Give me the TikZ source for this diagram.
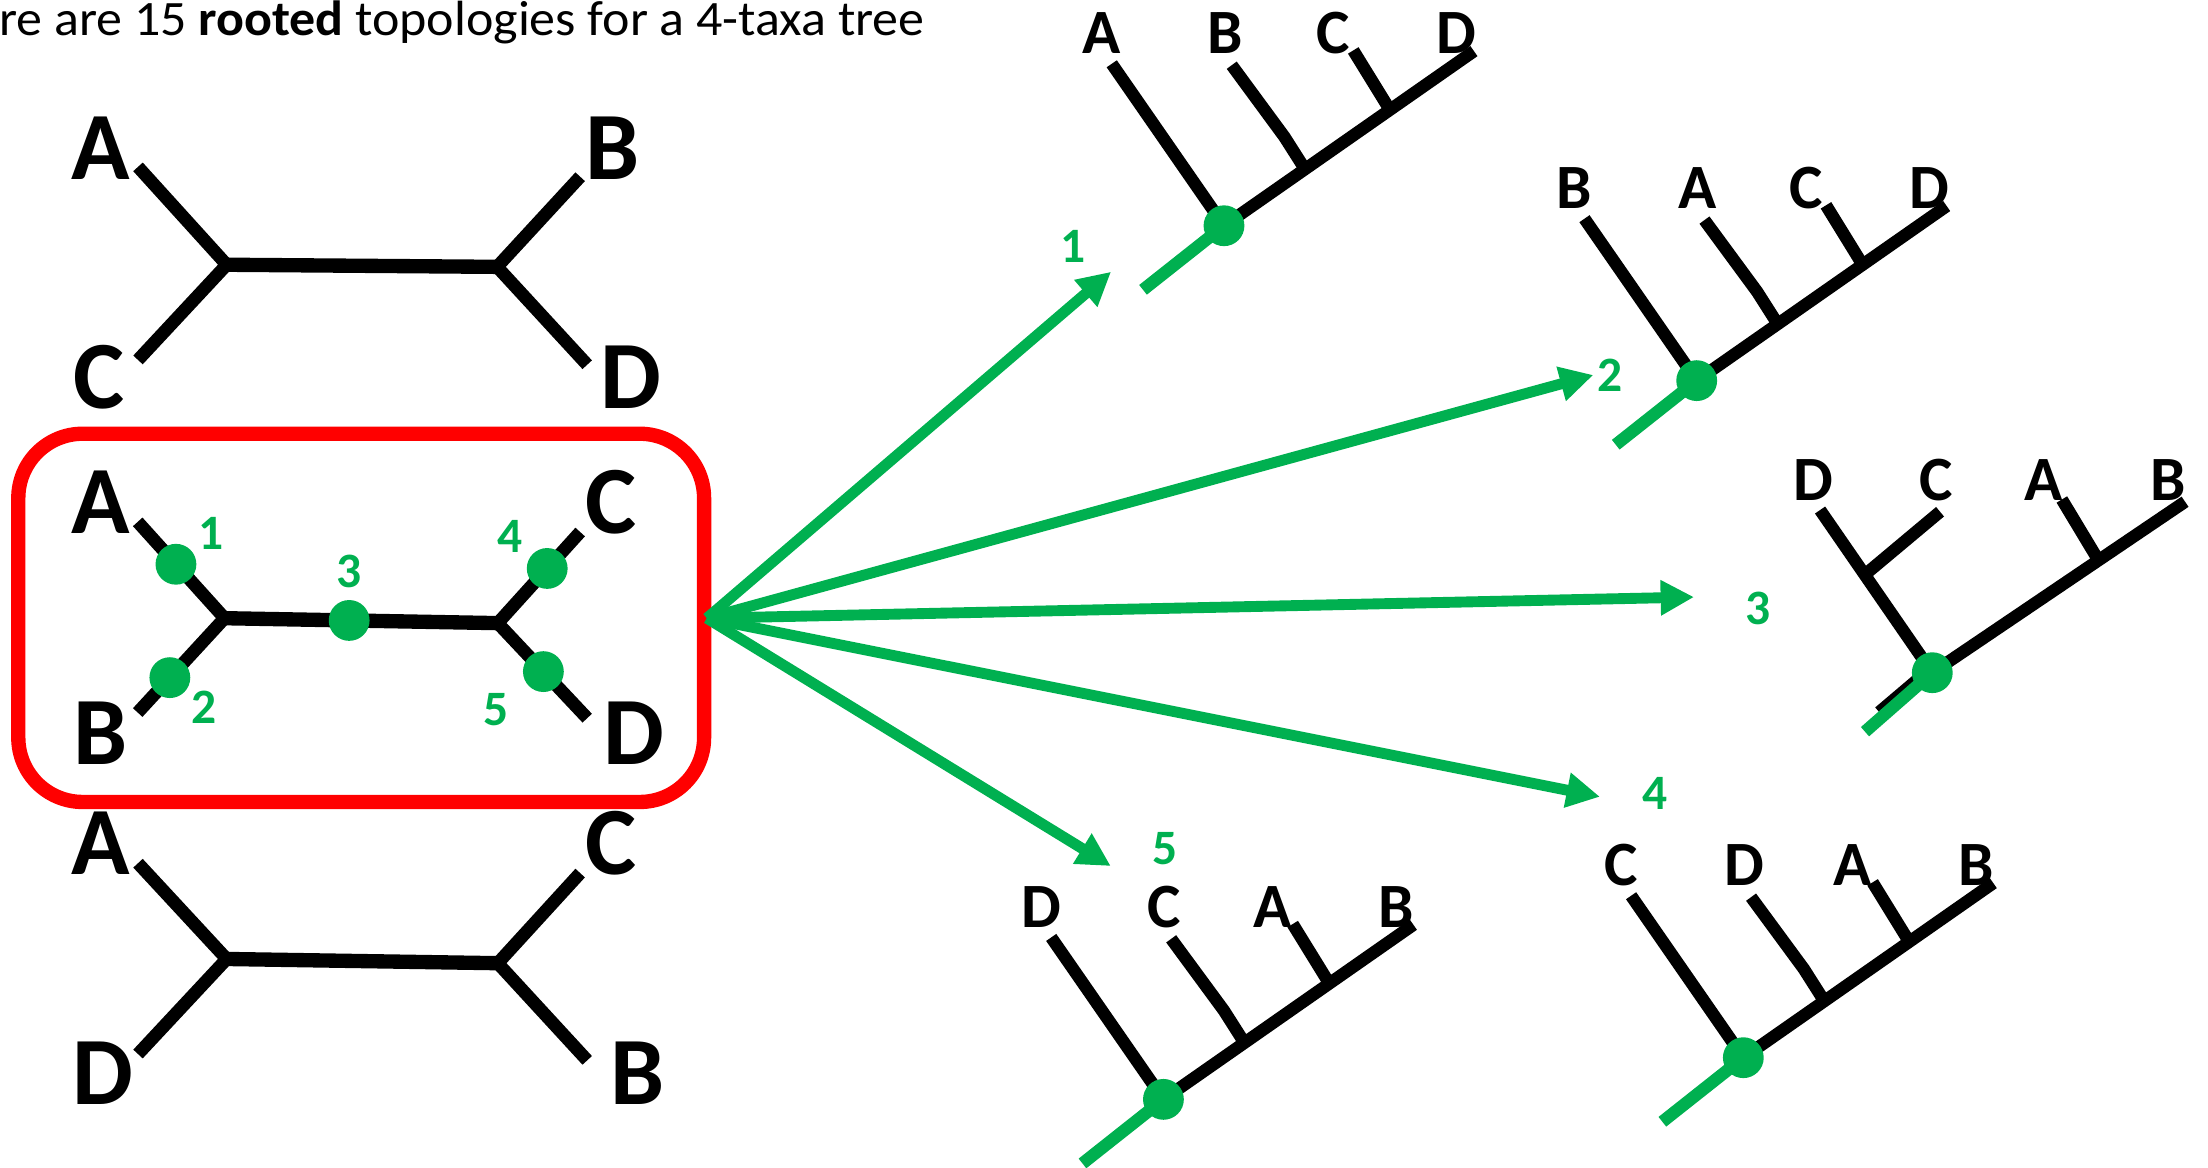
\documentclass[tikz,border=0pt]{standalone}
\usepackage{fontspec}
\setmainfont{Carlito}
\usetikzlibrary{arrows.meta}
\definecolor{grn}{HTML}{00B050}
\definecolor{rd}{HTML}{FF0000}

\tikzset{
  tbr/.style={line width=5.2pt, black, line join=miter},
  tin/.style={line width=5.8pt, black},
  rbr/.style={line width=5pt, black},
  stem/.style={line width=5pt, grn},
  gdot/.style={circle, fill=grn, inner sep=0pt, minimum size=16.5pt},
  biglab/.style={font=\fontsize{39}{41}\selectfont\bfseries, inner sep=0pt},
  tlab/.style={font=\fontsize{25.5}{27}\selectfont\bfseries, inner sep=0pt},
  num/.style={text=grn, font=\fontsize{20}{22}\selectfont\bfseries, inner sep=0pt},
  garrow/.style={grn, line width=4.4pt, -{Triangle[length=13.5pt,width=13.5pt]}},
  frame/.style={draw=rd, line width=5.8pt, rounded corners=26pt}
}

% rooted caterpillar tree: #1 name, #2 root position, #3..#6 tip labels
\newcommand{\cattree}[6]{%
  \begin{scope}[shift={#2}]
    \coordinate (#1-r) at (0,0);
    \coordinate (#1-e) at (177.5,-124);
    \coordinate (#1-s) at (-57.5,45.5);
    \coordinate (#1-t1) at (-79.7,-115);
    \coordinate (#1-t2) at (5.5,-114);
    \coordinate (#1-k2) at (43,-63);
    \coordinate (#1-j2) at (57.5,-40.2);
    \coordinate (#1-t3) at (91.8,-124.5);
    \coordinate (#1-j3) at (117.8,-82.3);
    \draw[rbr] (#1-r) -- (#1-e);
    \draw[rbr] (#1-t1) -- (#1-r);
    \draw[rbr] (#1-t2) -- (#1-k2) -- (#1-j2);
    \draw[rbr] (#1-t3) -- (#1-j3);
    \draw[stem] (#1-r) -- (#1-s);
    \node[gdot] (#1-dot) at (#1-r) {};
    \node[tlab] (#1-l1) at (-87,-136.8) {#3};
    \node[tlab] (#1-l2) at (0.8,-136.8) {#4};
    \node[tlab] (#1-l3) at (77.4,-136.8) {#5};
    \node[tlab] (#1-l4) at (165.3,-136.8) {#6};
  \end{scope}}

\begin{document}
\begin{tikzpicture}[x=0.02cm, y=-0.02cm]
  \useasboundingbox (0,0) rectangle (1568,829);

  % heading
  \node[anchor=base west, font=\fontsize{20}{23}\selectfont, inner sep=0pt, xscale=1.05] (title) at (-1,25.5)
    {re are 15 \textbf{rooted} topologies for a 4-taxa tree};

  % unrooted tree ((A,C),(B,D))
  \coordinate (u1L) at (161,188);
  \coordinate (u1R) at (353,189.5);
  \coordinate (u1a) at (98,118.5);
  \coordinate (u1c) at (98,255.6);
  \coordinate (u1b) at (412,125.5);
  \coordinate (u1d) at (417,259);
  \draw[tbr] (u1a) -- (u1L) -- (u1c);
  \draw[tbr] (u1b) -- (u1R) -- (u1d);
  \draw[tin] (u1L) -- (u1R);
  \node[biglab] (u1A) at (71.6,105) {A};
  \node[biglab] (u1B) at (435,105) {B};
  \node[biglab] (u1C) at (70,268) {C};
  \node[biglab] (u1D) at (448,268) {D};

  % highlighted unrooted tree ((A,B),(C,D)) with the five root positions
  \draw[frame] (13,308) rectangle (500,569.5);
  \coordinate (u2L) at (159.5,439);
  \coordinate (u2R) at (353.5,442.5);
  \coordinate (u2a) at (97.8,370.6);
  \coordinate (u2b) at (97.8,506);
  \coordinate (u2c) at (412,377.8);
  \coordinate (u2d) at (417,510);
  \draw[tbr] (u2a) -- (u2L) -- (u2b);
  \draw[tbr] (u2c) -- (u2R) -- (u2d);
  \draw[tin] (u2L) -- (u2R);
  \node[biglab] (u2A) at (71.6,356.5) {A};
  \node[biglab] (u2B) at (71.6,520.6) {B};
  \node[biglab] (u2C) at (434,356.5) {C};
  \node[biglab] (u2D) at (450,520.6) {D};
  \path (u2a) -- (u2L) node[gdot, pos=0.44] (p1) {};
  \path (u2b) -- (u2L) node[gdot, pos=0.37] (p2) {};
  \path (u2L) -- (u2R) node[gdot, pos=0.456] (p3) {};
  \path (u2c) -- (u2R) node[gdot, pos=0.40] (p4) {};
  \path (u2d) -- (u2R) node[gdot, pos=0.49] (p5) {};
  \node[num] (n1) at (150,379) {1};
  \node[num] (n2) at (145,502) {2};
  \node[num] (n3) at (248,406) {3};
  \node[num] (n4) at (362,381) {4};
  \node[num] (n5) at (352,504) {5};

  % unrooted tree ((A,D),(C,B))
  \coordinate (u3L) at (161,681);
  \coordinate (u3R) at (353.5,684);
  \coordinate (u3a) at (98,613);
  \coordinate (u3d) at (98,748.5);
  \coordinate (u3c) at (412,620);
  \coordinate (u3b) at (417,753);
  \draw[tbr] (u3a) -- (u3L) -- (u3d);
  \draw[tbr] (u3c) -- (u3R) -- (u3b);
  \draw[tin] (u3L) -- (u3R);
  \node[biglab] (u3A) at (71.6,599) {A};
  \node[biglab] (u3C) at (434,599) {C};
  \node[biglab] (u3D) at (73,762) {D};
  \node[biglab] (u3B) at (452.8,762) {B};

  % rooted trees
  \cattree{r1}{(869.2,160.3)}{A}{B}{C}{D}
  \cattree{r2}{(1204.9,270.3)}{B}{A}{C}{D}
  \cattree{r4}{(1238,751.1)}{C}{D}{A}{B}
  \cattree{r5}{(826.2,780.7)}{D}{C}{A}{B}

  % rooted tree ((D,C),(A,B))
  \begin{scope}[shift={(1372.2,477.7)}]
    \coordinate (r3-r) at (0,0);
    \coordinate (r3-e) at (179.5,-121.4);
    \coordinate (r3-s) at (-47.8,41.9);
    \coordinate (r3-t1) at (-79.7,-115.5);
    \coordinate (r3-j1) at (-48,-69.5);
    \coordinate (r3-t2) at (5.5,-114.3);
    \coordinate (r3-t3) at (92,-123);
    \coordinate (r3-j3) at (118,-79.8);
    \coordinate (r3-b1) at (-37.7,28);
    \coordinate (r3-b2) at (-10,4.5);
    \draw[rbr] (r3-r) -- (r3-e);
    \draw[rbr] (r3-t1) -- (r3-r);
    \draw[rbr] (r3-t2) -- (r3-j1);
    \draw[rbr] (r3-t3) -- (r3-j3);
    \draw[rbr] (r3-b1) -- (r3-b2);
    \draw[stem] (r3-r) -- (r3-s);
    \node[gdot] (r3-dot) at (r3-r) {};
    \node[tlab] (r3-l1) at (-84.5,-136.8) {D};
    \node[tlab] (r3-l2) at (3.1,-136.8) {C};
    \node[tlab] (r3-l3) at (78.8,-136.8) {A};
    \node[tlab] (r3-l4) at (167.6,-136.8) {B};
  \end{scope}

  % arrows from the highlighted tree to each rooting
  \coordinate (src) at (502,439);
  \coordinate (a1) at (789,193);
  \coordinate (a2) at (1131.5,266.3);
  \coordinate (a3) at (1203,424);
  \coordinate (a4) at (1136.2,565.8);
  \coordinate (a5) at (788.8,615);
  \draw[garrow] (src) -- (a1);
  \draw[garrow] (src) -- (a2);
  \draw[garrow] (src) -- (a3);
  \draw[garrow] (src) -- (a4);
  \draw[garrow] (src) -- (a5);
  \node[num] (m1) at (762.2,175.2) {1};
  \node[num] (m2) at (1143.5,266.3) {2};
  \node[num] (m3) at (1248.5,432) {3};
  \node[num] (m4) at (1175.3,563.4) {4};
  \node[num] (m5) at (827.3,602.4) {5};
\end{tikzpicture}
\end{document}
